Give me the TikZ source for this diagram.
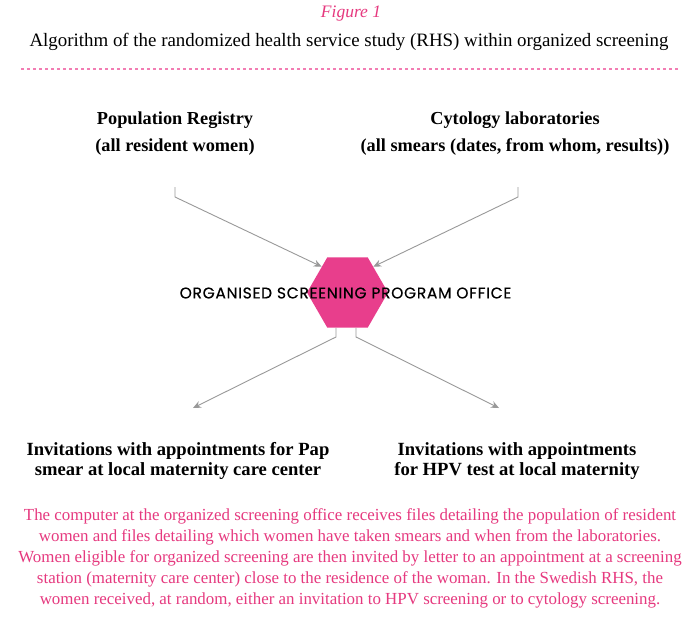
\documentclass[tikz,border=0pt]{standalone}
\usepackage{fontspec}
\setmainfont{Liberation Serif}
\newfontfamily\officefont[LetterSpace=4.5,FakeBold=0.4]{Poppins}
\usetikzlibrary{shapes.geometric,arrows.meta,positioning}
\definecolor{rhspink}{HTML}{E83E8C}
\definecolor{rhstext}{HTML}{E6397F}
\definecolor{rhsdash}{HTML}{F27DB3}
\definecolor{rhsgrey}{HTML}{999999}
\tikzset{
    source/.style={font=\fontsize{18.3}{27}\selectfont\bfseries, align=center, inner sep=0pt},
    target/.style={font=\fontsize{18.6}{19.5}\selectfont\bfseries, align=center, inner sep=0pt},
    hexa/.style={regular polygon, regular polygon sides=6, fill=rhspink, minimum size=81pt, inner sep=0pt},
    link/.style={draw=rhsgrey, line width=0.9pt, -{Stealth[length=8pt,width=7pt]}},
    note/.style={font=\fontsize{16.9}{21}\selectfont, text=rhstext, align=center, inner sep=0pt}
}
\begin{document}
\begin{tikzpicture}[x=1pt,y=-1pt]
        \useasboundingbox[fill=white] (0,0) rectangle (700,618);

        \node[font=\fontsize{17.5}{18}\selectfont\itshape, text=rhstext] (fig) at (351,14) {Figure 1};
        \node[font=\fontsize{18.9}{20}\selectfont] (title) at (349,42) {Algorithm of the randomized health service study (RHS) within organized screening};
        \draw[rhsdash, line width=1.3pt, dash pattern=on 3pt off 3pt] (21,69) -- (679,69);

        \node[source] (reg) at (175,134) {Population Registry\\(all resident women)};
        \node[source] (lab) at (515,134) {Cytology laboratories\\(all smears (dates, from whom, results))};

        \node[hexa] (office) at (347.5,292.5) {};
        \node[font=\officefont\fontsize{15.5}{16}\selectfont] (officetext) at (345.5,293) {ORGANISED SCREENING PROGRAM OFFICE};

        \node[target] (pap) at (178,461) {Invitations with appointments for Pap\\smear at local maternity care center};
        \node[target] (hpv) at (517,461) {Invitations with appointments\\for HPV test at local maternity};

        \node[note] (text) at (350,558) {The computer at the organized screening office receives files detailing the population of resident\\women and files detailing which women have taken smears and when from the laboratories.\\Women eligible for organized screening are then invited by letter to an appointment at a screening\\station (maternity care center) close to the residence of the woman. In the Swedish RHS, the\\women received, at random, either an invitation to HPV screening or to cytology screening.};

        \coordinate (regout) at (175,187);
        \coordinate (regknee) at (175,197);
        \coordinate (labout) at (518,187);
        \coordinate (labknee) at (518,197);
        \coordinate (papknee) at (336,337);
        \coordinate (paptip) at (193,408);
        \coordinate (hpvknee) at (356,337);
        \coordinate (hpvtip) at (499,408);

        \draw[link] (regout) -- (regknee) -- (office.north west);
        \draw[link] (labout) -- (labknee) -- (office.north east);
        \draw[link] ([xshift=-11.5pt]office.south) -- (papknee) -- (paptip);
        \draw[link] ([xshift=8.5pt]office.south) -- (hpvknee) -- (hpvtip);
\end{tikzpicture}
\end{document}
